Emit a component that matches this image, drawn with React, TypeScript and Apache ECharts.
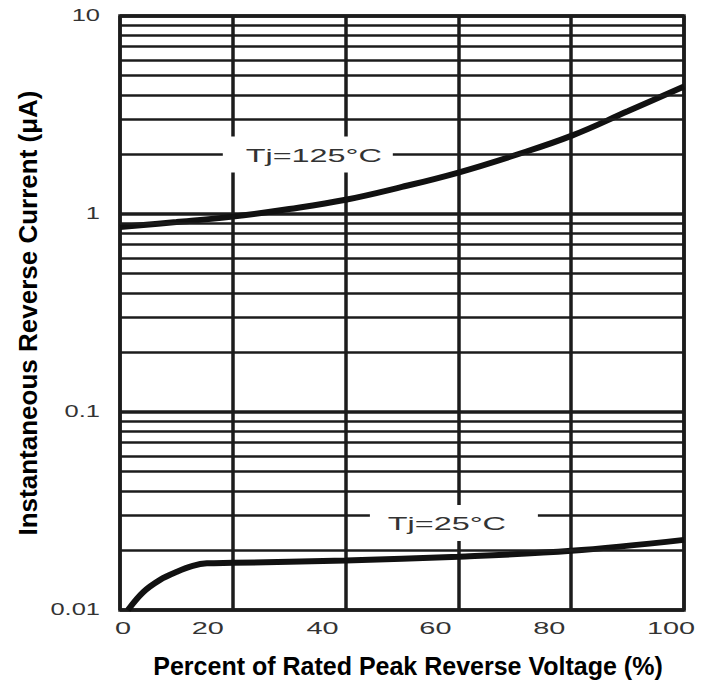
import React, { useEffect, useRef } from "react";
import * as echarts from "echarts";

// ---- data ----
const xTicks = [0, 20, 40, 60, 80, 100];
const xTickLabels = ["0", "20", "40", "60", "80", "100"];
const yTicks = [0.01, 0.1, 1, 10];
const yTickLabels = ["0.01", "0.1", "1", "10"];
const minorGridValues = [
  0.02, 0.03, 0.04, 0.05, 0.06, 0.07, 0.08, 0.09,
  0.2, 0.3, 0.4, 0.5, 0.6, 0.7, 0.8, 0.9,
  2, 3, 4, 5, 6, 7, 8, 9,
];

const tj125X = [0, 10, 20, 30, 40, 50, 60, 70, 80, 90, 100];
const tj125Y = [0.86, 0.91, 0.97, 1.06, 1.18, 1.37, 1.62, 1.98, 2.48, 3.3, 4.4];

const tj25X = [1.4, 4.1, 7.1, 10.1, 12.9, 15.4, 20, 40, 60, 80, 100];
const tj25Y = [0.01, 0.0123, 0.0142, 0.0156, 0.0167, 0.0172, 0.0173, 0.0178, 0.0186, 0.0199, 0.0226];

const curveLabelNames = ["Tj=125°C", "Tj=25°C"];
const curveLabelX = [33.3, 59.2];
const curveLabelY = [2, 0.0275];

const xAxisTitle = "Percent of Rated Peak Reverse Voltage (%)";
const yAxisTitle = "Instantaneous Reverse Current (μA)";

// ---- layout (not data) ----
const xLabelShift = [3, -25, -23, -23, -22, -13];
const labelBoxW = [170, 168];
const labelTextShift = [6, -7];
const INK = "#1c1c1c";

export default function App() {
  const ref = useRef<HTMLDivElement>(null);

  useEffect(() => {
    document.body.style.margin = "0";
    if (!ref.current) return;
    const chart = echarts.init(ref.current, undefined, { renderer: "svg" });

    const option: any = {
      animation: false,
      backgroundColor: "#ffffff",
      grid: {
        left: 120,
        right: 17,
        top: 16,
        bottom: 79,
        show: true,
        borderColor: INK,
        borderWidth: 3.5,
        backgroundColor: "transparent",
      },
      xAxis: {
        type: "value",
        min: 0,
        max: 100,
        interval: 20,
        axisLine: { show: false },
        axisTick: { show: false },
        axisLabel: { show: false },
        splitLine: { show: true, lineStyle: { color: INK, width: 3.5 } },
        name: xAxisTitle,
        nameLocation: "middle",
        nameGap: 43,
        nameTextStyle: {
          fontFamily: "Liberation Sans",
          fontWeight: "bold",
          fontSize: 25,
          color: "#000",
          padding: [0, 0, 0, 12],
        },
      },
      yAxis: {
        type: "log",
        logBase: 10,
        min: 0.01,
        max: 10,
        axisLine: { show: false },
        axisTick: { show: false },
        axisLabel: { show: false },
        minorTick: { show: false },
        splitLine: { show: true, lineStyle: { color: INK, width: 3.5 } },
        name: yAxisTitle,
        nameLocation: "middle",
        nameGap: 79,
        nameRotate: 90,
        nameTextStyle: {
          fontFamily: "Liberation Sans",
          fontWeight: "bold",
          fontSize: 26,
          color: "#000",
        },
      },
      series: [
        {
          name: "grid",
          type: "line",
          data: [],
          z: 1,
          silent: true,
          markLine: {
            silent: true,
            symbol: ["none", "none"],
            label: { show: false },
            lineStyle: { color: INK, width: 2.6, type: "solid" },
            emphasis: { disabled: true },
            data: minorGridValues.map((v) => ({ yAxis: v })),
          },
        },
        {
          name: "Tj=125°C",
          type: "line",
          z: 3,
          smooth: 0.4,
          showSymbol: false,
          lineStyle: { color: "#111", width: 6 },
          data: tj125X.map((x, i) => [x, tj125Y[i]]),
        },
        {
          name: "Tj=25°C",
          type: "line",
          z: 3,
          smooth: 0.35,
          showSymbol: false,
          lineStyle: { color: "#111", width: 6 },
          data: tj25X.map((x, i) => [x, tj25Y[i]]),
        },
      ],
    };
    chart.setOption(option);

    const toPx = (x: number, y: number) =>
      chart.convertToPixel({ xAxisIndex: 0, yAxisIndex: 0 }, [x, y]) as number[];

    const graphics: any[] = [];
    // x tick labels
    xTicks.forEach((t, i) => {
      const [px] = toPx(t, 0.01);
      const [, by] = toPx(0, 0.01);
      graphics.push({
        type: "text",
        x: px + xLabelShift[i],
        y: by + 18,
        scaleX: 1.7,
        z: 100,
        style: {
          text: xTickLabels[i],
          textAlign: "center",
          textVerticalAlign: "middle",
          align: "center",
          verticalAlign: "middle",
          font: '17px "Liberation Sans"',
          fill: "#333",
        },
      });
    });
    // y tick labels
    yTicks.forEach((t, i) => {
      const [lx, py] = toPx(0, t);
      graphics.push({
        type: "text",
        x: lx - 20,
        y: py - 1,
        scaleX: 1.5,
        z: 100,
        style: {
          text: yTickLabels[i],
          textAlign: "right",
          textVerticalAlign: "middle",
          align: "right",
          verticalAlign: "middle",
          font: '17px "Liberation Sans"',
          fill: "#333",
        },
      });
    });
    // curve labels with white boxes
    curveLabelNames.forEach((name, i) => {
      const [px, py] = toPx(curveLabelX[i], curveLabelY[i]);
      graphics.push({
        type: "group",
        x: px,
        y: py,
        z: 100,
        children: [
          {
            type: "rect",
            z: 100,
            shape: { x: -labelBoxW[i] / 2, y: -18, width: labelBoxW[i], height: 36 },
            style: { fill: "#ffffff" },
          },
          {
            type: "text",
            z: 101,
            x: labelTextShift[i],
            y: 1,
            scaleX: 1.8,
            style: {
              text: name,
              textAlign: "center",
              textVerticalAlign: "middle",
              align: "center",
              verticalAlign: "middle",
              font: '18px "Liberation Sans"',
              fill: "#333",
            },
          },
        ],
      });
    });
    chart.setOption({ graphic: graphics });

    return () => chart.dispose();
  }, []);

  return <div ref={ref} style={{ width: 701, height: 689 }} />;
}
